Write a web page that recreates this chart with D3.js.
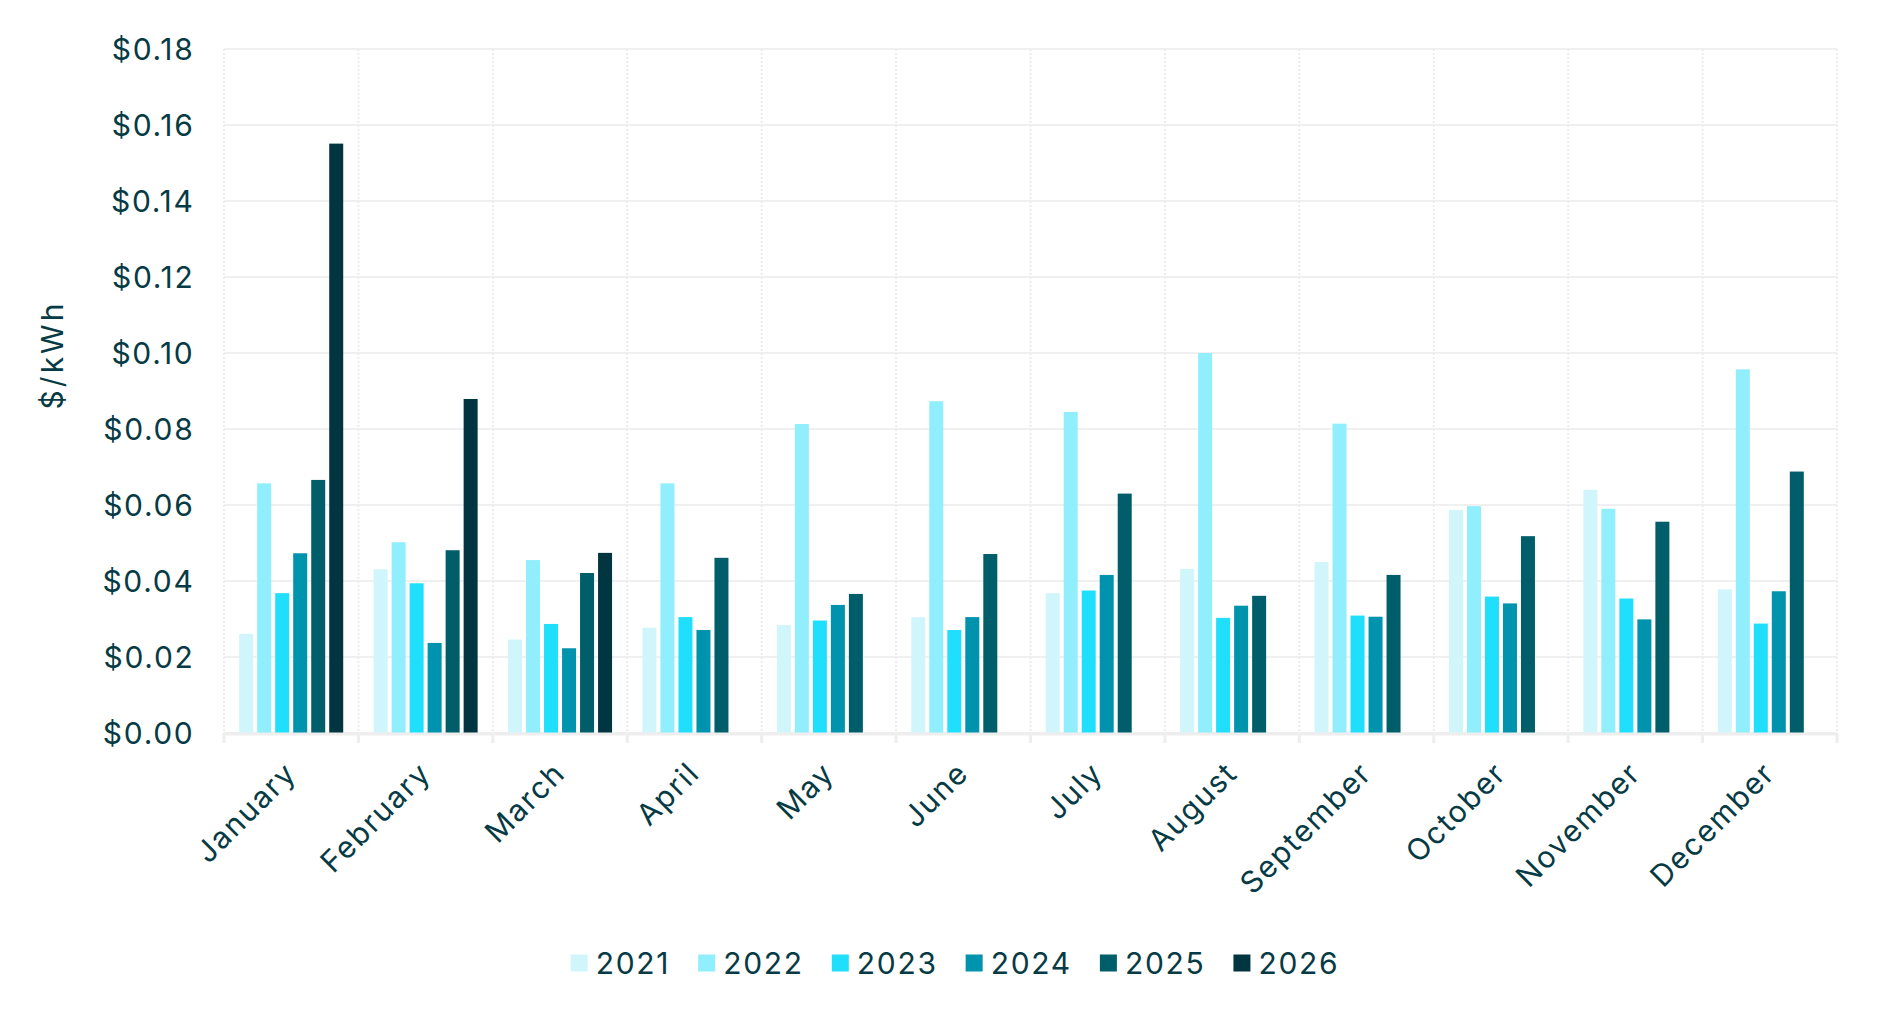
<!DOCTYPE html>
<html>
<head>
  <meta charset="utf-8">
  <title>$/kWh by month</title>
  <script src="https://d3js.org/d3.v7.min.js"></script>
  <style>
    body { margin: 0; background: #fff; }
    svg { display: block; font-family: Inter, "Noto Sans", sans-serif; }
    .grid-h line { stroke: #f0f0f0; stroke-width: 2; }
    .grid-v line { stroke: #ececec; stroke-width: 2; stroke-dasharray: 2 2; }
    text { fill: #063a44; letter-spacing: 1.7px; }
  </style>
</head>
<body>
  <svg width="1888" height="1023"></svg>

  <script>
    const months = ["January", "February", "March", "April", "May", "June",
                    "July", "August", "September", "October", "November", "December"];
    const years = ["2021", "2022", "2023", "2024", "2025", "2026"];
    const colors = ["#d0f6fc", "#90eefd", "#20dffc", "#0093ae", "#005e6b", "#013641"];
    const yTicks = [0, 0.02, 0.04, 0.06, 0.08, 0.10, 0.12, 0.14, 0.16, 0.18];

    // values, one array per year
    const v2021 = [0.0261, 0.0431, 0.0246, 0.0277, 0.0284, 0.0305, 0.0368, 0.0432, 0.0450, 0.0587, 0.0640, 0.0378];
    const v2022 = [0.0657, 0.0502, 0.0455, 0.0657, 0.0813, 0.0873, 0.0845, 0.1000, 0.0814, 0.0597, 0.0590, 0.0957];
    const v2023 = [0.0368, 0.0394, 0.0287, 0.0305, 0.0296, 0.0271, 0.0375, 0.0303, 0.0309, 0.0359, 0.0354, 0.0288];
    const v2024 = [0.0473, 0.0237, 0.0223, 0.0271, 0.0337, 0.0305, 0.0416, 0.0335, 0.0306, 0.0341, 0.0299, 0.0373];
    const v2025 = [0.0666, 0.0481, 0.0421, 0.0461, 0.0366, 0.0471, 0.0630, 0.0361, 0.0416, 0.0518, 0.0556, 0.0688];
    const v2026 = [0.1551, 0.0879, 0.0474, null, null, null, null, null, null, null, null, null];

    const seriesValues = [v2021, v2022, v2023, v2024, v2025, v2026];

    const svg = d3.select("svg");
    const plotLeft = 224, plotRight = 1837, plotTop = 49, plotBottom = 733;

    const x0 = d3.scaleBand().domain(months).range([plotLeft, plotRight]);
    const x1 = d3.scaleBand().domain(years).range([0, x0.bandwidth()])
      .paddingInner(4 / 18).paddingOuter(0.844);
    const y = d3.scaleLinear().domain([0, 0.18]).range([plotBottom, plotTop]);

    // horizontal grid
    svg.append("g").attr("class", "grid-h")
      .selectAll("line").data(yTicks).join("line")
      .attr("x1", plotLeft).attr("x2", plotRight)
      .attr("y1", d => y(d)).attr("y2", d => y(d));

    // vertical dotted grid at band edges
    const edges = months.map(m => x0(m)).concat([plotRight]);
    svg.append("g").attr("class", "grid-v")
      .selectAll("line").data(edges).join("line")
      .attr("x1", d => d).attr("x2", d => d)
      .attr("y1", plotTop).attr("y2", plotBottom);

    // bars
    const rows = [];
    seriesValues.forEach((vals, i) => {
      vals.forEach((v, j) => {
        if (v != null) rows.push({ month: months[j], year: years[i], value: v, color: colors[i] });
      });
    });
    svg.append("g").selectAll("rect").data(rows).join("rect")
      .attr("x", d => x0(d.month) + x1(d.year))
      .attr("y", d => y(d.value))
      .attr("width", x1.bandwidth())
      .attr("height", d => plotBottom - y(d.value))
      .attr("fill", d => d.color);

    // x baseline + tick marks
    svg.append("line")
      .attr("x1", plotLeft - 1).attr("x2", plotRight + 1)
      .attr("y1", plotBottom + 1).attr("y2", plotBottom + 1)
      .attr("stroke", "#eeeeee").attr("stroke-width", 3);
    svg.append("g").selectAll("line").data(edges).join("line")
      .attr("x1", d => d).attr("x2", d => d)
      .attr("y1", plotBottom).attr("y2", plotBottom + 10)
      .attr("stroke", "#eeeeee").attr("stroke-width", 3);

    // y axis labels
    const yAxis = svg.append("g")
      .attr("transform", `translate(${plotLeft},0)`)
      .call(d3.axisLeft(y).tickValues(yTicks).tickSize(0).tickPadding(29.5)
        .tickFormat(d => "$" + d.toFixed(2)));
    yAxis.select(".domain").remove();
    yAxis.selectAll("text")
      .attr("font-size", 30).attr("font-family", "Inter, sans-serif")
      .attr("dy", "0.36em").style("fill", "#063a44");

    // x axis labels, rotated
    const xAxis = svg.append("g")
      .attr("transform", `translate(0,${plotBottom})`)
      .call(d3.axisBottom(x0).tickSize(0).tickPadding(0));
    xAxis.select(".domain").remove();
    xAxis.selectAll("text")
      .attr("font-size", 30).attr("font-family", "Inter, sans-serif")
      .attr("text-anchor", "end")
      .attr("dy", 0)
      .attr("y", 0)
      .attr("transform", "translate(7,42) rotate(-45)")
      .style("fill", "#063a44");

    // y title
    svg.append("text")
      .attr("transform", "translate(63,355) rotate(-90)")
      .attr("text-anchor", "middle")
      .attr("font-size", 30)
      .style("letter-spacing", "3px")
      .text("$/kWh");

    // legend
    const legend = svg.append("g");
    let lx = 0;
    years.forEach((yr, i) => {
      const item = legend.append("g").attr("transform", `translate(${lx},0)`);
      item.append("rect").attr("x", 0).attr("y", -8.5).attr("width", 17).attr("height", 17)
        .attr("fill", colors[i]);
      const t = item.append("text").attr("x", 25).attr("dy", "0.36em")
        .attr("font-size", 30).text(yr);
      lx += 25 + t.node().getComputedTextLength() + 28;
    });
    const legendWidth = lx - 28;
    legend.attr("transform", `translate(${955 - legendWidth / 2},963)`);
  </script>
</body>
</html>
